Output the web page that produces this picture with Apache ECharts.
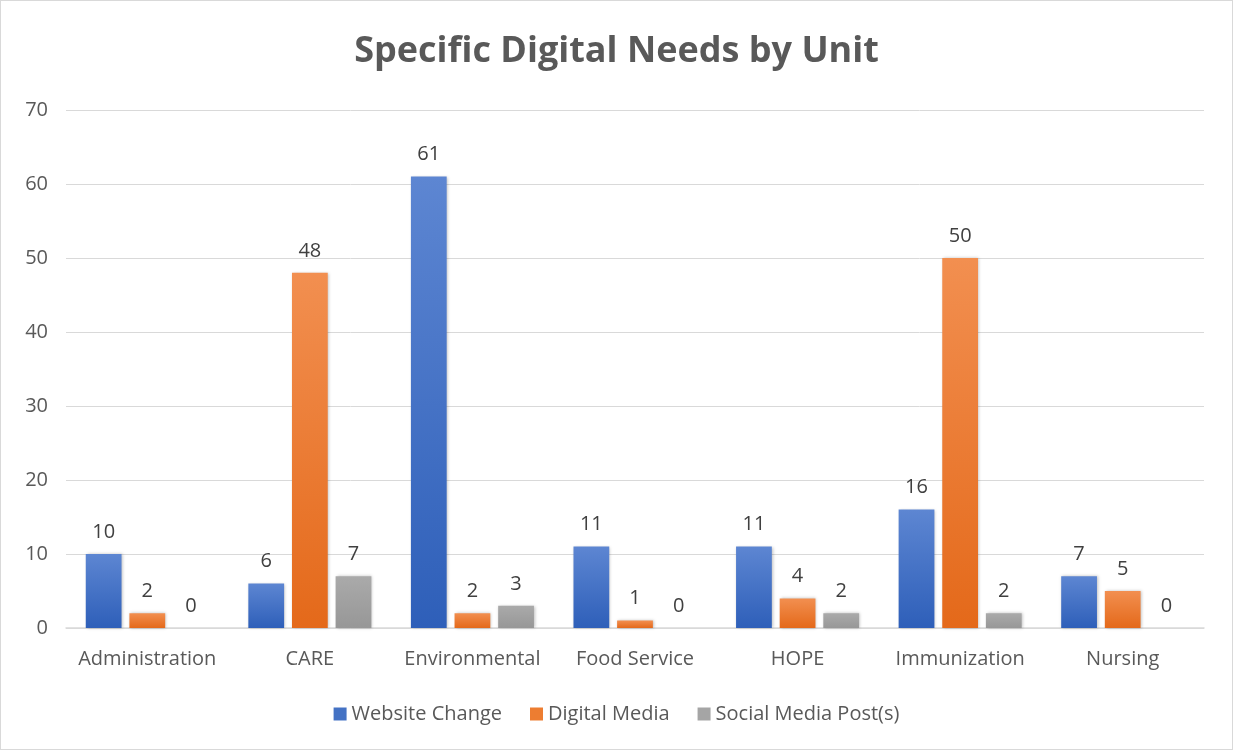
<!DOCTYPE html>
<html><head><meta charset="utf-8">
<script src="https://cdn.jsdelivr.net/npm/echarts@6/dist/echarts.min.js"></script>
<style>html,body{margin:0;padding:0;background:#fff}#c{width:1233px;height:750px;box-sizing:border-box;border:1px solid #d9d9d9}</style>
</head><body><div id="c"></div>
<script>
const categories = ['Administration','CARE','Environmental','Food Service','HOPE','Immunization','Nursing'];
const websiteChange = [10,6,61,11,11,16,7];
const digitalMedia = [2,48,2,1,4,50,5];
const socialMedia = [0,7,3,0,2,2,0];
const seriesNames = ['Website Change','Digital Media','Social Media Post(s)'];

const FONT = 'Open Sans';
function grad(top, bottom){
  return new echarts.graphic.LinearGradient(0,0,0,1,[{offset:0,color:top},{offset:1,color:bottom}]);
}
const styles = [
  {color: grad('#5d86d2','#2e5fb9'), legend:'#4472c4'},
  {color: grad('#f28f50','#e4691a'), legend:'#ed7d31'},
  {color: grad('#aaaaaa','#979797'), legend:'#a5a5a5'}
];
const datas = [websiteChange, digitalMedia, socialMedia];
const chart = echarts.init(document.getElementById('c'), null, {renderer:'canvas'});
chart.setOption({
  animation:false,
  title:{text:'Specific Digital Needs by Unit', left:'center', top:28,
    textStyle:{fontFamily:FONT, fontSize:36, fontWeight:'bold', color:'#595959'}},
  legend:{bottom:20, left:'center', itemWidth:13, itemHeight:13, itemGap:28,
    icon:'rect',
    textStyle:{fontFamily:FONT, fontSize:20, color:'#595959'},
    data: seriesNames.map((n,i)=>({name:n, itemStyle:{color:styles[i].legend}}))},
  grid:{left:65, right:28, top:109, bottom:121},
  xAxis:{type:'category', data:categories,
    axisLine:{lineStyle:{color:'#d9d9d9', width:1.5}}, axisTick:{show:false},
    axisLabel:{interval:0, fontFamily:FONT, fontSize:20, color:'#595959', margin:21}},
  yAxis:{type:'value', min:0, max:70, interval:10,
    axisLine:{show:false}, axisTick:{show:false},
    splitLine:{lineStyle:{color:'#d9d9d9', width:1}},
    axisLabel:{fontFamily:FONT, fontSize:20, color:'#595959', margin:18}},
  series: datas.map((d,i)=>({
    name:seriesNames[i], type:'bar', data:d, barWidth:'22%', barGap:'22%',
    itemStyle:{color:styles[i].color, shadowColor:'rgba(0,0,0,0.25)', shadowBlur:3, shadowOffsetX:1, shadowOffsetY:0},
    label:{show:true, position:'top', distance:12, fontFamily:FONT, fontSize:20, color:'#404040'}
  }))
});
</script></body></html>
